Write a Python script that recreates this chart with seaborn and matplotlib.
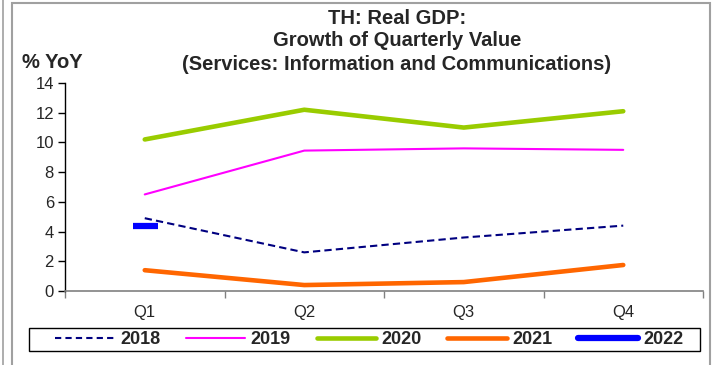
import pandas as pd
import numpy as np
import seaborn as sns
import matplotlib.pyplot as plt
from matplotlib.lines import Line2D
from matplotlib.patches import Rectangle

quarters = ["Q1", "Q2", "Q3", "Q4"]
growth_2018 = [4.9, 2.6, 3.6, 4.4]
growth_2019 = [6.5, 9.45, 9.6, 9.5]
growth_2020 = [10.2, 12.2, 11.0, 12.1]
growth_2021 = [1.4, 0.4, 0.6, 1.75]
growth_2022 = [4.4]

years = ["2018", "2019", "2020", "2021", "2022"]
series = [growth_2018, growth_2019, growth_2020, growth_2021, growth_2022]
colors = {"2018": "#000080", "2019": "#FF00FF", "2020": "#99CC00",
          "2021": "#FF6600", "2022": "#0000FF"}
widths = {"2018": 1.5, "2019": 1.5, "2020": 3.3, "2021": 3.3, "2022": 4.5}

rows = []
for yr, vals in zip(years, series):
    for q, v in zip(quarters, vals):
        rows.append({"quarter": q, "year": yr, "value": v})
df = pd.DataFrame(rows)
df["x"] = df["quarter"].map({q: i for i, q in enumerate(quarters)})

sns.set_style("white")
plt.rcParams["font.family"] = ["Liberation Sans", "DejaVu Sans"]

W, H = 712, 365
fig = plt.figure(figsize=(W / 100, H / 100), dpi=100)
ax = fig.add_axes([65 / W, 1 - 291 / H, 638 / W, 208 / H])

for yr in years[:4]:
    sub = df[df["year"] == yr]
    sns.lineplot(data=sub, x="x", y="value", color=colors[yr],
                 linewidth=widths[yr], ax=ax, legend=False)
    if yr == "2018":
        ax.lines[-1].set_dashes((3.5, 2))

# 2022 only has Q1 so far: drawn as a short thick dash
sub = df[df["year"] == "2022"]
sns.scatterplot(data=sub, x="x", y="value", marker="_", s=324,
                color=colors["2022"], linewidth=4.5, ax=ax, legend=False)

ax.set_xlim(-0.5, 3.5)
ax.set_ylim(0, 14)
ax.set_yticks(range(0, 15, 2))
ax.set_xticks(range(4))
ax.set_xticklabels(quarters)
ax.set_xticks(np.arange(-0.5, 4, 1), minor=True)
ax.tick_params(axis="x", which="major", length=0, pad=10, labelsize=12)
ax.tick_params(axis="x", which="minor", length=5, width=1, color="#808080",
               direction="out", bottom=True)
ax.tick_params(axis="y", length=5, width=1, direction="out", left=True,
               labelsize=12, pad=3, color="black")
ax.set_xlabel("")
ax.set_ylabel("")
for side in ["top", "right"]:
    ax.spines[side].set_visible(False)
ax.spines["left"].set_color("black")
ax.spines["bottom"].set_color("#808080")
ax.spines["left"].set_linewidth(1)
ax.spines["bottom"].set_linewidth(1.2)

title_lines = ["TH: Real GDP:", "Growth of Quarterly Value",
               "(Services: Information and Communications)"]
for line, ypix in zip(title_lines, [19, 41, 64]):
    fig.text(397 / W, 1 - ypix / H, line, ha="center", va="center",
             fontsize=14.5, fontweight="bold")
fig.text(22 / W, 1 - 63 / H, "% YoY", ha="left", va="center",
         fontsize=14.5, fontweight="bold")

handles = []
for yr in years:
    h = Line2D([], [], color=colors[yr], linewidth=widths[yr],
               solid_capstyle="round")
    if yr == "2018":
        h.set_dashes((3, 2))
    handles.append(h)
fig.legend(handles, years, loc="center left",
           bbox_to_anchor=(55 / W, 1 - 339.5 / H), frameon=False,
           borderaxespad=0, borderpad=0, handlelength=3.3,
           columnspacing=1.42, handletextpad=0.3, ncol=5,
           prop={"weight": "bold", "size": 13})
fig.add_artist(Rectangle((29 / W, 1 - 351 / H), 671 / W, 23 / H,
                         transform=fig.transFigure, fill=False,
                         edgecolor="black", linewidth=1))

# outer chart frame
fig.add_artist(Rectangle((12 / W, -0.05), 698 / W, 1 - 3 / H + 0.05,
                         transform=fig.transFigure, fill=False,
                         edgecolor="#A0A0A0", linewidth=1.5))
fig.add_artist(Line2D([3 / W, 3 / W], [0, 1], transform=fig.transFigure,
                      color="#A0A0A0", linewidth=1.2))

fig.savefig("out.png", dpi=100)
